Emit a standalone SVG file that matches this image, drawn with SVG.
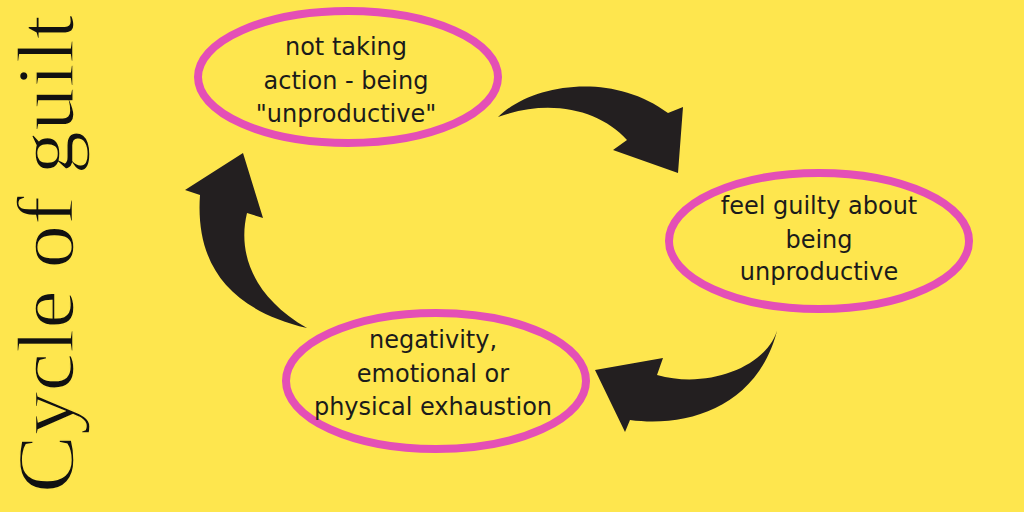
<svg xmlns="http://www.w3.org/2000/svg" width="1024" height="512" viewBox="0 0 1024 512">
<style>
.node ellipse{fill:none;stroke:#E44FB6;stroke-width:8}
.node text{font-family:"DejaVu Sans","Open Sans",sans-serif;font-size:24px;fill:#1b1b1b;text-anchor:middle}
.arrow{fill:#231F20}
.title{font-family:"Liberation Serif","DejaVu Serif",serif;font-size:80px;fill:#111;stroke:#FEE64E;stroke-width:1.4}
</style>
<rect width="1024" height="512" fill="#FEE64E"/>
<text class="title" transform="translate(73,493) rotate(-90)" textLength="478" lengthAdjust="spacingAndGlyphs">Cycle of guilt</text>
<g id="connectors">
<path class="arrow" d="M498,117 C530,85 610,70 668,113 L683,107 L678,173 L613,150 L627,140 C600,110 550,98 498,117 Z"/>
<path class="arrow" d="M778,327 C770,365 710,390 657,375 L663,358 L595,370 L625,432 L630,420 C690,428 760,405 778,327 Z"/>
<path class="arrow" d="M243,153 L263,218 L247,213 C238,250 250,295 307,328 C230,310 195,265 200,195 L185,190 Z"/>
</g>
<g id="node-top" class="node">
<ellipse cx="348" cy="77" rx="150" ry="66"/>
<text x="346" y="55">not taking</text>
<text x="346" y="89">action - being</text>
<text x="346" y="122">"unproductive"</text>
</g>
<g id="node-right" class="node">
<ellipse cx="819" cy="241" rx="150" ry="68"/>
<text x="819" y="214">feel guilty about</text>
<text x="819" y="248">being</text>
<text x="819" y="280">unproductive</text>
</g>
<g id="node-bottom" class="node">
<ellipse cx="436" cy="381" rx="150" ry="68"/>
<text x="433" y="348">negativity,</text>
<text x="433" y="382">emotional or</text>
<text x="433" y="415">physical exhaustion</text>
</g>
</svg>
